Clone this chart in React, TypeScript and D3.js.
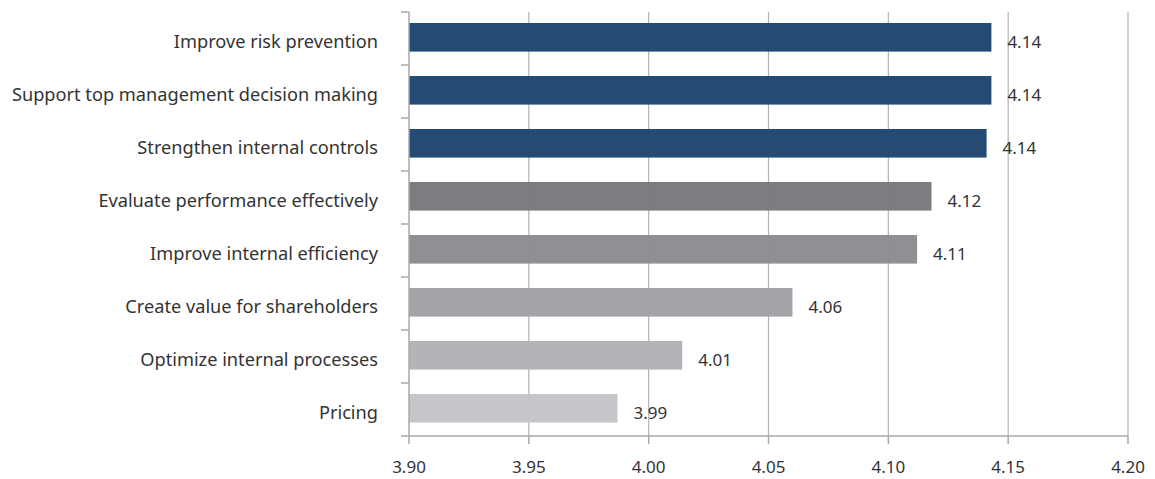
import React from "react";
import * as d3 from "d3";

const categories = [
  "Improve risk prevention",
  "Support top management decision making",
  "Strengthen internal controls",
  "Evaluate performance effectively",
  "Improve internal efficiency",
  "Create value for shareholders",
  "Optimize internal processes",
  "Pricing",
];
const values = [4.143, 4.143, 4.141, 4.118, 4.112, 4.06, 4.014, 3.987];
const valueLabels = ["4.14", "4.14", "4.14", "4.12", "4.11", "4.06", "4.01", "3.99"];
const colors = ["#1c4570", "#1c4570", "#1c4570", "#78797d", "#8b8c90", "#a0a1a5", "#b1b2b6", "#c3c4c8"];
const xTicks = [3.9, 3.95, 4.0, 4.05, 4.1, 4.15, 4.2];

const W = 1155;
const H = 479;
const M = { left: 409, right: 27, top: 12, bottom: 43 };
const FONT = "'Noto Sans', sans-serif";

export default function App() {
  const x = d3.scaleLinear().domain([3.9, 4.2]).range([M.left, W - M.right]);
  const y = d3
    .scaleBand<string>()
    .domain(categories)
    .range([M.top, H - M.bottom])
    .paddingInner(0.46)
    .paddingOuter(0.23)
    .align(0.45);
  const step = y.step();
  const rowStart = (i: number) => M.top + i * step;
  const grid = "#b3b3b3";
  const axisC = "#a8a8a8";
  const bottom = H - M.bottom;

  return (
    <svg
      width={W}
      height={H}
      style={{ position: "absolute", left: 0, top: 0, background: "#fff" }}
      fontFamily={FONT}
    >
      {xTicks.slice(1).map((t) => (
        <line key={"g" + t} x1={x(t)} x2={x(t)} y1={M.top} y2={bottom} stroke={grid} strokeWidth={1.2} />
      ))}
      {categories.map((c, i) => (
        <rect
          key={"b" + c}
          x={x(3.9)}
          y={y(c)}
          width={x(values[i]) - x(3.9)}
          height={y.bandwidth()}
          fill={colors[i]}
          fillOpacity={0.97}
        />
      ))}
      {/* left axis */}
      <line x1={M.left} x2={M.left} y1={M.top} y2={bottom} stroke={axisC} strokeWidth={1.5} />
      {d3.range(categories.length + 1).map((i) => (
        <line key={"lt" + i} x1={M.left - 8} x2={M.left} y1={rowStart(i)} y2={rowStart(i)} stroke={axisC} strokeWidth={1.5} />
      ))}
      {/* bottom axis */}
      <line x1={M.left} x2={x(4.2)} y1={bottom} y2={bottom} stroke={axisC} strokeWidth={1.5} />
      {xTicks.map((t) => (
        <g key={"xt" + t}>
          <line x1={x(t)} x2={x(t)} y1={bottom} y2={bottom + 8} stroke={axisC} strokeWidth={1.5} />
          <text x={x(t)} y={bottom + 32} textAnchor="middle" dominantBaseline="middle" fontSize={17} fill="#333">
            {t.toFixed(2)}
          </text>
        </g>
      ))}
      {categories.map((c, i) => (
        <text
          key={"c" + c}
          x={M.left - 31}
          y={(y(c) as number) + y.bandwidth() / 2 + 6}
          textAnchor="end"
          dominantBaseline="middle"
          fontSize={18.2}
          fill="#333"
        >
          {c}
        </text>
      ))}
      {categories.map((c, i) => (
        <text
          key={"v" + c}
          x={x(values[i]) + 16}
          y={(y(c) as number) + y.bandwidth() / 2 + 6}
          dominantBaseline="middle"
          fontSize={17}
          fill="#333"
        >
          {valueLabels[i]}
        </text>
      ))}
    </svg>
  );
}
